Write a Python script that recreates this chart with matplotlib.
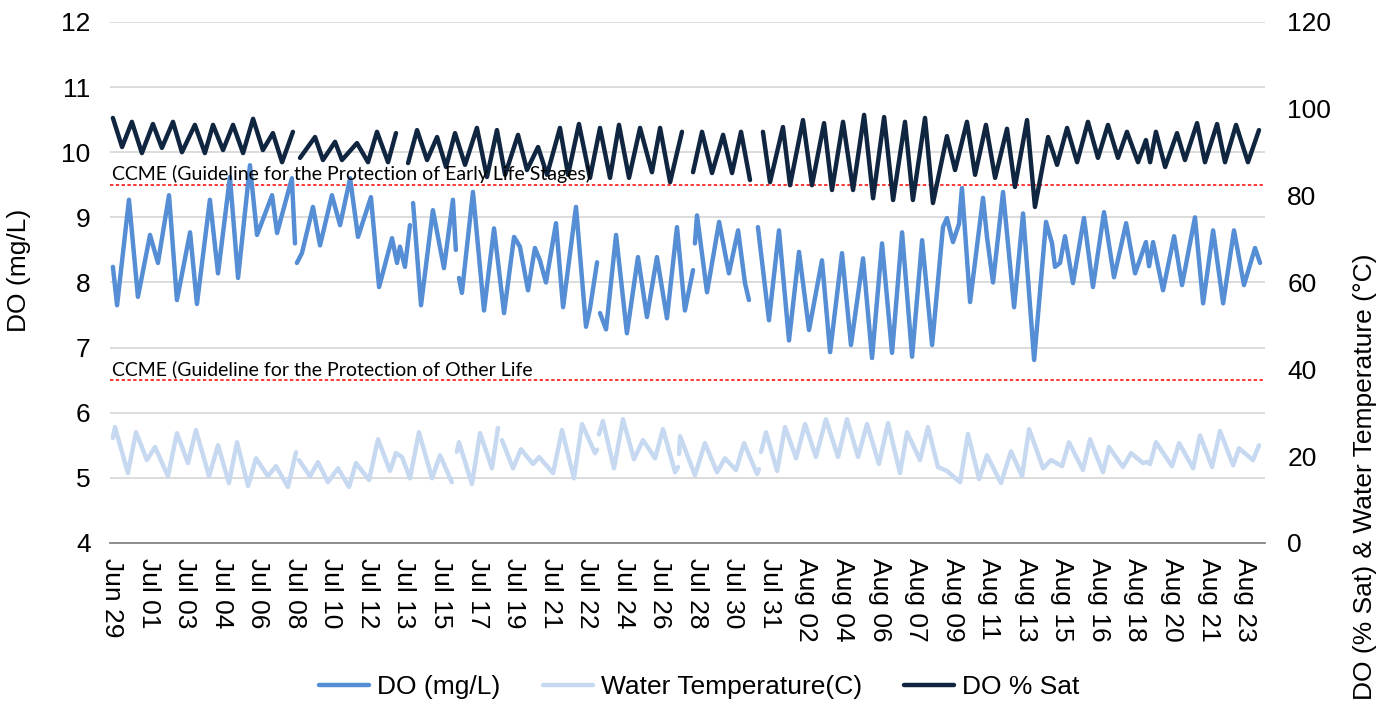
import numpy as np
import matplotlib.pyplot as plt

# logger readings, time in days since Jun 29 (nan = gap in record)
do_days = [0.14, 0.34, 0.91, 1.34, 1.92, 2.30, 2.83, 3.21, 3.84, 4.17, 4.79, 5.18, 5.75, 6.14, 6.71, 7.05,
           7.77, 8.01, 8.72, 8.87, 8.92, 8.96, 9.20, 9.73, 10.07, 10.64, 11.03, 11.51, 11.89, 12.51, 12.90,
           13.52, 13.76, 13.90, 14.14, 14.38, 14.46, 14.53, 14.91, 15.48, 16.01, 16.44, 16.58, 16.65, 16.73,
           16.87, 17.40, 17.93, 18.41, 18.89, 19.37, 19.65, 20.04, 20.37, 20.61, 20.90, 21.38, 21.72, 22.34,
           22.82, 23.01, 23.35, 23.42, 23.49, 23.78, 24.26, 24.78, 25.31, 25.74, 26.22, 26.70, 27.18, 27.56,
           27.95, 28.00, 28.04, 28.14, 28.62, 29.20, 29.67, 30.11, 30.44, 30.63, 30.85, 31.06, 31.59, 32.07,
           32.55, 33.03, 33.51, 34.13, 34.52, 35.09, 35.52, 36.10, 36.53, 37.01, 37.49, 37.97, 38.45, 38.93,
           39.41, 39.93, 40.12, 40.41, 40.70, 40.84, 41.23, 41.85, 42.04, 42.33, 42.81, 43.34, 43.77, 44.30,
           44.87, 45.16, 45.30, 45.54, 45.78, 46.16, 46.69, 47.12, 47.65, 48.13, 48.71, 49.14, 49.66, 49.81,
           50.00, 50.48, 51.01, 51.39, 52.01, 52.40, 52.88, 53.36, 53.88, 54.36, 54.89, 55.13]
do_mgl = [8.24, 7.65, 9.27, 7.78, 8.73, 8.30, 9.34, 7.73, 8.77, 7.67, 9.27, 8.14, 9.62, 8.07, 9.80, 8.73,
          9.34, 8.76, 9.60, 8.60, np.nan, 8.30, 8.45, 9.16, 8.57, 9.34, 8.88, 9.60, 8.70, 9.31, 7.93,
          8.68, 8.30, 8.55, 8.24, 8.88, np.nan, 9.22, 7.65, 9.11, 8.22, 9.27, 8.50, np.nan, 8.07,
          7.84, 9.39, 7.57, 8.83, 7.53, 8.70, 8.55, 7.88, 8.53, 8.34, 8.00, 8.91, 7.62, 9.16,
          7.32, 7.60, 8.31, np.nan, 7.53, 7.28, 8.73, 7.22, 8.39, 7.47, 8.39, 7.45, 8.85, 7.57,
          8.19, np.nan, 8.60, 9.03, 7.85, 8.93, 8.14, 8.80, 7.99, 7.73, np.nan, 8.85, 7.42, 8.80,
          7.11, 8.47, 7.27, 8.34, 6.93, 8.45, 7.04, 8.37, 6.84, 8.60, 6.92, 8.77, 6.86, 8.65,
          7.04, 8.85, 8.99, 8.62, 8.90, 9.45, 7.70, 9.30, 8.70, 8.00, 9.39, 7.62, 9.06, 6.81,
          8.93, 8.60, 8.24, 8.30, 8.71, 7.99, 8.99, 7.93, 9.08, 8.08, 8.91, 8.14, 8.62, 8.25,
          8.62, 7.88, 8.71, 7.96, 9.00, 7.68, 8.80, 7.68, 8.80, 7.96, 8.53, 8.30]

sat_days = [0.14, 0.58, 1.05, 1.53, 2.06, 2.49, 3.02, 3.45, 4.07, 4.55, 4.94, 5.42, 5.90, 6.38, 6.86, 7.33,
            7.81, 8.25, 8.77, 8.95, 9.11, 9.83, 10.21, 10.79, 11.12, 11.84, 12.37, 12.80, 13.33, 13.71,
            13.95, 14.29, 14.72, 15.20, 15.68, 16.11, 16.54, 17.02, 17.59, 18.07, 18.55, 18.94, 19.56,
            19.99, 20.52, 20.95, 21.57, 21.96, 22.48, 23.01, 23.49, 23.97, 24.40, 24.88, 25.41,
            25.98, 26.37, 26.85, 27.42, 27.70, 27.95, 28.38, 28.86, 29.39, 29.82, 30.25, 30.68, 30.95,
            31.30, 31.64, 32.26, 32.60, 33.22, 33.65, 34.23, 34.61, 35.14, 35.62, 36.15, 36.58, 37.11,
            37.54, 38.11, 38.49, 39.07, 39.45, 40.12, 40.51, 41.08, 41.47, 41.99, 42.43, 43.00, 43.38,
            43.96, 44.34, 44.97, 45.40, 45.88, 46.36, 46.88, 47.36, 47.84, 48.32, 48.75, 49.28, 49.66,
            49.86, 50.14, 50.58, 51.15, 51.53, 52.11, 52.49, 53.07, 53.45, 53.98, 54.55, 55.08]
sat_pct = [97.9, 91.2, 97.0, 89.8, 96.5, 91.0, 97.0, 90.0, 96.3, 89.8, 96.3, 90.5, 96.3, 89.8, 97.7, 90.5,
           94.4, 87.7, 94.7, np.nan, 88.7, 93.5, 88.2, 92.4, 88.2, 92.1, 87.7, 94.7, 87.7, 94.4,
           np.nan, 87.5, 95.1, 88.2, 93.5, 86.6, 94.4, 87.1, 95.6, 84.3, 95.1, 84.8, 94.0,
           85.9, 91.2, 84.8, 95.6, 84.8, 96.5, 84.1, 95.6, 84.1, 96.3, 84.1, 95.6,
           85.4, 95.6, 83.1, 94.7, np.nan, 85.4, 94.7, 85.2, 94.0, 85.2, 94.7, 83.6, np.nan,
           94.7, 83.1, 95.8, 82.4, 97.4, 82.4, 96.7, 81.3, 97.0, 81.3, 98.6, 79.4, 98.1,
           79.0, 97.0, 79.0, 97.9, 78.3, 93.7, 85.9, 97.0, 84.8, 96.3, 84.1, 95.4, 82.0,
           97.4, 77.4, 93.5, 87.1, 95.6, 87.7, 97.0, 88.7, 96.3, 88.7, 94.7, 87.7, 92.8,
           87.7, 94.7, 86.6, 94.4, 88.2, 96.7, 87.7, 96.5, 87.7, 96.3, 87.7, 95.1]

temp_days = [0.14, 0.24, 0.86, 1.25, 1.77, 2.16, 2.78, 3.21, 3.74, 4.12, 4.75, 5.18, 5.70, 6.09, 6.62, 7.00,
             7.57, 7.96, 8.53, 8.92, 8.99, 9.06, 9.59, 9.97, 10.45, 10.93, 11.46, 11.79, 12.42, 12.85,
             13.42, 13.71, 14.00, 14.38, 14.81, 15.44, 15.82, 16.39, 16.51, 16.63, 16.73, 17.35, 17.74,
             18.31, 18.60, 18.70, 18.79, 19.32, 19.70, 20.28, 20.57, 21.24, 21.67, 22.24, 22.63, 23.25,
             23.35, 23.40, 23.44, 23.63, 24.16, 24.59, 25.12, 25.55, 26.13, 26.51, 27.09, 27.23, 27.26,
             27.28, 27.33, 28.04, 28.52, 29.10, 29.48, 30.01, 30.39, 31.02, 31.11, 31.16, 31.21, 31.45,
             31.98, 32.36, 32.89, 33.32, 33.84, 34.32, 34.90, 35.33, 35.86, 36.29, 36.86, 37.30, 37.87,
             38.21, 38.83, 39.21, 39.69, 40.12, 40.75, 41.13, 41.66, 42.04, 42.71, 43.19, 43.72, 44.06,
             44.73, 45.11, 45.64, 45.97, 46.64, 46.98, 47.60, 47.89, 48.56, 48.95, 49.52, 49.71, 49.86,
             50.14, 50.91, 51.25, 51.92, 52.25, 52.83, 53.21, 53.84, 54.12, 54.79, 55.08]
temp_c = [24.2, 26.7, 16.1, 25.5, 19.1, 22.1, 15.4, 25.3, 18.4, 26.0, 15.4, 22.5, 13.8, 23.2, 13.1, 19.5,
          15.4, 17.7, 12.9, 20.9, np.nan, 19.1, 15.4, 18.6, 14.0, 17.2, 12.9, 18.4, 14.5, 23.9,
          16.6, 20.7, 19.8, 14.9, 25.5, 14.9, 20.2, 14.0, np.nan, 21.0, 23.2, 13.6, 25.3,
          17.2, 26.5, np.nan, 23.7, 17.2, 21.6, 18.2, 19.8, 16.1, 26.0, 14.9, 27.4, 20.7,
          21.5, np.nan, 25.0, 28.1, 17.2, 28.5, 19.3, 23.7, 19.5, 26.2, 16.3, 17.5, np.nan,
          20.5, 24.6, 15.6, 23.0, 16.3, 19.5, 16.8, 23.0, 15.9, 17.0, np.nan, 21.0, 25.5,
          16.6, 26.7, 19.5, 27.4, 19.8, 28.5, 19.8, 28.5, 19.8, 27.4, 18.2, 27.6, 16.1,
          25.5, 19.1, 26.7, 17.5, 16.6, 14.0, 25.1, 14.7, 20.2, 13.8, 21.1, 15.4, 26.2,
          17.2, 19.1, 17.7, 23.2, 16.8, 23.9, 16.3, 22.1, 17.5, 20.7, 18.4, 18.7, 18.2,
          23.2, 17.7, 23.0, 17.2, 24.8, 17.5, 25.8, 17.9, 21.8, 19.1, 22.5]

tick_labels = ['Jun 29', 'Jul 01', 'Jul 03', 'Jul 04', 'Jul 06', 'Jul 08', 'Jul 10', 'Jul 12',
               'Jul 13', 'Jul 15', 'Jul 17', 'Jul 19', 'Jul 21', 'Jul 22', 'Jul 24', 'Jul 26',
               'Jul 28', 'Jul 30', 'Jul 31', 'Aug 02', 'Aug 04', 'Aug 06', 'Aug 07', 'Aug 09',
               'Aug 11', 'Aug 13', 'Aug 15', 'Aug 16', 'Aug 18', 'Aug 20', 'Aug 21', 'Aug 23']

# CCME guideline values (mg/L)
early_life = 9.5
other_life = 6.5

plt.rcParams['font.family'] = ['Liberation Sans', 'DejaVu Sans']
fs = 19

fig, ax = plt.subplots(figsize=(13.85, 7.02), dpi=100)
fig.subplots_adjust(left=0.0794, right=0.9134, top=0.9687, bottom=0.2265)
ax2 = ax.twinx()

# series
line_kw = dict(lw=3.2, solid_joinstyle='round', solid_capstyle='round')
l1, = ax.plot(do_days, do_mgl, color='#558ED5', label='DO (mg/L)', zorder=3, **line_kw)
l2, = ax2.plot(temp_days, temp_c, color='#C6D9F1', label='Water Temperature(C)', zorder=3, **line_kw)
l3, = ax2.plot(sat_days, sat_pct, color='#10253F', label='DO % Sat', zorder=4, **line_kw)

# guideline lines + labels
ax.axhline(early_life, color='#FF0000', lw=1.1, ls=(0, (2.2, 1.6)), zorder=1.5)
ax.axhline(other_life, color='#FF0000', lw=1.1, ls=(0, (2.2, 1.6)), zorder=1.5)
ax2.text(0.1, early_life + 0.03, 'CCME (Guideline for the Protection of Early Life Stages)',
         transform=ax.transData, family='Lato', fontsize=14, va='bottom', ha='left', zorder=6)
ax2.text(0.1, other_life + 0.03, 'CCME (Guideline for the Protection of Other Life',
         transform=ax.transData, family='Lato', fontsize=14, va='bottom', ha='left', zorder=6)

# axes
ax.set_xlim(0, 55.37)
ax.set_ylim(4, 12)
ax.set_yticks(range(4, 13))
ax2.set_ylim(0, 120)
ax2.set_yticks(range(0, 121, 20))
ax.set_xticks([0.1 + k * 1.752 for k in range(len(tick_labels))])
ax.set_xticklabels(tick_labels, rotation=-90)

ax.yaxis.grid(True, color='#D9D9D9', lw=1.3)
ax.set_axisbelow(True)
for s in ['top', 'left', 'right']:
    ax.spines[s].set_visible(False)
for s in ['top', 'left', 'right', 'bottom']:
    ax2.spines[s].set_visible(False)
ax.spines['bottom'].set_color('#868686')
ax.spines['bottom'].set_linewidth(1.3)

ax.tick_params(axis='y', length=0, labelsize=fs, pad=14)
ax.tick_params(axis='x', length=0, labelsize=fs, pad=11)
ax2.tick_params(axis='y', length=0, labelsize=fs, pad=16)

fig.text(0.014, 0.615, 'DO (mg/L)', rotation=90, ha='center', va='center', fontsize=fs)
fig.text(0.9855, 0.003, 'DO (% Sat) & Water Temperature (°C)', rotation=90, ha='center', va='bottom', fontsize=fs)

fig.legend([l1, l2, l3], [l1.get_label(), l2.get_label(), l3.get_label()], loc='lower center',
           bbox_to_anchor=(0.505, -0.03), ncol=3, frameon=False, fontsize=fs,
           handlelength=1.9, handletextpad=0.3, columnspacing=1.6)

plt.savefig('out.png', dpi=100)
plt.close()
